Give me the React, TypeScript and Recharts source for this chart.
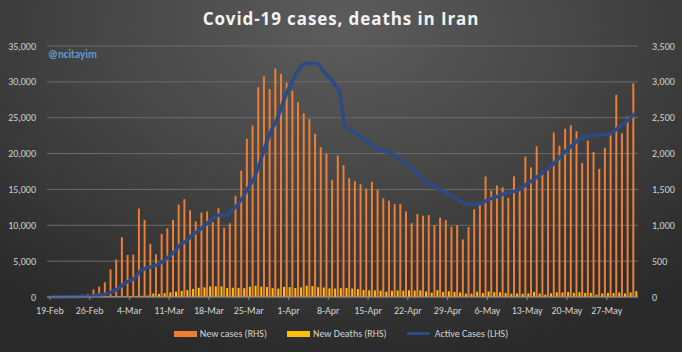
import { Bar, CartesianGrid, ComposedChart, Legend, Line, XAxis, YAxis } from "recharts";

// one entry per day, 19-Feb .. 1-Jun
const days = [
  "19-Feb", "20-Feb", "21-Feb", "22-Feb", "23-Feb", "24-Feb", "25-Feb", "26-Feb", "27-Feb", "28-Feb", "29-Feb",
  "1-Mar", "2-Mar", "3-Mar", "4-Mar", "5-Mar", "6-Mar", "7-Mar", "8-Mar", "9-Mar", "10-Mar",
  "11-Mar", "12-Mar", "13-Mar", "14-Mar", "15-Mar", "16-Mar", "17-Mar", "18-Mar", "19-Mar", "20-Mar",
  "21-Mar", "22-Mar", "23-Mar", "24-Mar", "25-Mar", "26-Mar", "27-Mar", "28-Mar", "29-Mar", "30-Mar", "31-Mar",
  "1-Apr", "2-Apr", "3-Apr", "4-Apr", "5-Apr", "6-Apr", "7-Apr", "8-Apr", "9-Apr", "10-Apr",
  "11-Apr", "12-Apr", "13-Apr", "14-Apr", "15-Apr", "16-Apr", "17-Apr", "18-Apr", "19-Apr", "20-Apr",
  "21-Apr", "22-Apr", "23-Apr", "24-Apr", "25-Apr", "26-Apr", "27-Apr", "28-Apr", "29-Apr", "30-Apr",
  "1-May", "2-May", "3-May", "4-May", "5-May", "6-May", "7-May", "8-May", "9-May", "10-May",
  "11-May", "12-May", "13-May", "14-May", "15-May", "16-May", "17-May", "18-May", "19-May", "20-May",
  "21-May", "22-May", "23-May", "24-May", "25-May", "26-May", "27-May", "28-May", "29-May", "30-May", "31-May",
  "1-Jun",
];

// RHS
const newCases = [
  2, 3, 13, 10, 15, 18, 34, 44, 106, 143, 205,
  385, 523, 835, 586, 591, 1234, 1076, 743, 595, 881, 958, 1075, 1289, 1365, 1209, 1053, 1178, 1192, 1046, 1237,
  966, 1028, 1411, 1762, 2206, 2389, 2926, 3076, 2901, 3186, 3110,
  2987, 2875, 2715, 2560, 2483, 2274, 2089, 1997, 1634, 1972, 1837, 1657, 1617, 1574, 1512, 1606, 1499, 1374, 1343, 1294,
  1297, 1194, 1030, 1156, 1133, 1142, 1003, 1105, 1072, 980,
  1003, 802, 976, 1223, 1323, 1680, 1485, 1556, 1529, 1383, 1683, 1481, 1958, 1808, 2102, 1757, 1806, 2294, 2111, 2346,
  2392, 2311, 1869, 2180, 2023, 1787, 2080, 2255, 2819, 2282, 2516,
  2979,
];

// RHS
const newDeaths = [
  2, 0, 2, 1, 3, 4, 4, 3, 4, 8, 9,
  11, 12, 11, 15, 15, 17, 21, 49, 43, 54, 63, 75, 85, 97, 113, 129, 135, 147, 149, 149,
  123, 129, 127, 122, 143, 157, 144, 139, 123, 117, 141,
  138, 124, 134, 158, 151, 136, 133, 121, 117, 122, 125, 117, 111, 98, 94, 92, 89, 73, 87, 91,
  88, 94, 90, 93, 76, 60, 96, 71, 80, 71,
  63, 47, 47, 74, 55, 78, 68, 65, 55, 45, 48, 45, 50, 71, 48, 35, 51, 65, 62, 69,
  59, 66, 56, 58, 34, 50, 57, 56, 63, 50, 63,
  81,
];

// LHS
const activeCases = [
  2, 5, 16, 21, 33, 47, 71, 103, 198, 309, 427,
  749, 1144, 1824, 2278, 2667, 3710, 4009, 4238, 4530, 5020, 5687, 6370, 7321, 7779, 8624, 9142, 9792, 10516, 11144, 11466,
  11419, 12022, 12861, 13964, 15315, 16715, 18821, 21212, 23278, 24827, 27051,
  29084, 30597, 31954, 32555, 32612, 32525, 31678, 30781, 29801, 28495, 23725, 23318, 22735, 22065, 21679, 20897, 20472, 20300, 20070, 19500,
  19000, 18400, 17700, 16900, 16200, 15700, 15300, 14900, 14400, 13900,
  13500, 13100, 12950, 12900, 13100, 13500, 13800, 14100, 14400, 14600, 14800, 15200, 15800, 16300, 16900, 17500, 18100, 18900, 19700, 20500,
  21200, 21900, 22300, 22500, 22600, 22600, 22700, 22900, 23600, 24200, 24900,
  25600,
];

const leftTicks = [0, 5000, 10000, 15000, 20000, 25000, 30000, 35000];
const rightTicks = [0, 500, 1000, 1500, 2000, 2500, 3000, 3500];

const ORANGE = "#EE7E32";
const YELLOW = "#FFC000";
const BLUE = "#2C4A86";
const LABEL = "#d2d2d2";
const FONT = "Carlito, Lato, 'Liberation Sans', sans-serif";

const legendItems = [
  { label: "New cases (RHS)", color: ORANGE, line: false },
  { label: "New Deaths (RHS)", color: YELLOW, line: false },
  { label: "Active Cases (LHS)", color: BLUE, line: true },
];

const data = days.map((d, i) => ({
  d,
  cases: newCases[i],
  deaths: newDeaths[i],
  active: activeCases[i],
}));

const fmt = (v: number) => v.toLocaleString("en-US");

function ChartLegend() {
  return (
    <div style={{ display: "flex", justifyContent: "center", gap: 20, fontFamily: FONT, fontSize: 10, color: LABEL }}>
      {legendItems.map((it) => (
        <div key={it.label} style={{ display: "flex", alignItems: "center" }}>
          <span
            style={{
              display: "inline-block",
              width: 23,
              height: it.line ? 3 : 6,
              background: it.color,
              marginRight: it.line ? 5 : 3,
            }}
          />
          {it.label}
        </div>
      ))}
    </div>
  );
}

export default function App() {
  const tick = { fill: LABEL, fontSize: 10, fontFamily: FONT };
  return (
    <div
      style={{
        position: "absolute",
        left: 0,
        top: 0,
        width: 682,
        height: 352,
        background: "radial-gradient(ellipse 75% 95% at 50% 8%, #5c5c5c 0%, #474747 45%, #2a2a2a 100%)",
      }}
    >
      <div
        style={{
          position: "absolute",
          top: 7,
          width: 682,
          textAlign: "center",
          color: "#f2f2f2",
          fontFamily: "'Open Sans', sans-serif",
          fontWeight: 700,
          fontSize: 17,
          letterSpacing: 0.9,
        }}
      >
        Covid-19 cases, deaths in Iran
      </div>
      <div
        style={{
          position: "absolute",
          left: 48,
          top: 48,
          color: "#5b9bd5",
          fontFamily: FONT,
          fontWeight: 700,
          fontSize: 11,
        }}
      >
        @ncitayim
      </div>
      <ComposedChart
        width={682}
        height={352}
        data={data}
        margin={{ top: 46, right: 0, bottom: 30, left: 0 }}
        barGap={1}
        barCategoryGap={0}
      >
        <CartesianGrid yAxisId="left" vertical={false} stroke="#6c6c6c" />
        <XAxis
          dataKey="d"
          interval={6}
          height={25}
          tick={tick}
          tickSize={3}
          tickMargin={7}
          axisLine={{ stroke: "#8a8a8a" }}
          tickLine={{ stroke: "#8a8a8a" }}
        />
        <YAxis
          yAxisId="left"
          width={47}
          domain={[0, 35000]}
          ticks={leftTicks}
          tickFormatter={fmt}
          tick={tick}
          axisLine={false}
          tickLine={false}
          tickSize={0}
          tickMargin={11}
        />
        <YAxis
          yAxisId="right"
          orientation="right"
          width={44}
          domain={[0, 3500]}
          ticks={rightTicks}
          tickFormatter={fmt}
          tick={{ ...tick, textAnchor: "start" }}
          axisLine={false}
          tickLine={false}
          tickSize={0}
          tickMargin={14}
        />
        <Bar yAxisId="right" dataKey="cases" name="New cases (RHS)" fill={ORANGE} barSize={2} isAnimationActive={false} />
        <Bar yAxisId="right" dataKey="deaths" name="New Deaths (RHS)" fill={YELLOW} barSize={2} isAnimationActive={false} />
        <Line
          yAxisId="left"
          type="monotone"
          dataKey="active"
          name="Active Cases (LHS)"
          stroke={BLUE}
          strokeWidth={3.5}
          dot={false}
          isAnimationActive={false}
        />
        <Legend
          content={<ChartLegend />}
          wrapperStyle={{ top: 327, left: 0, width: 682, height: 0 }}
        />
      </ComposedChart>
    </div>
  );
}
